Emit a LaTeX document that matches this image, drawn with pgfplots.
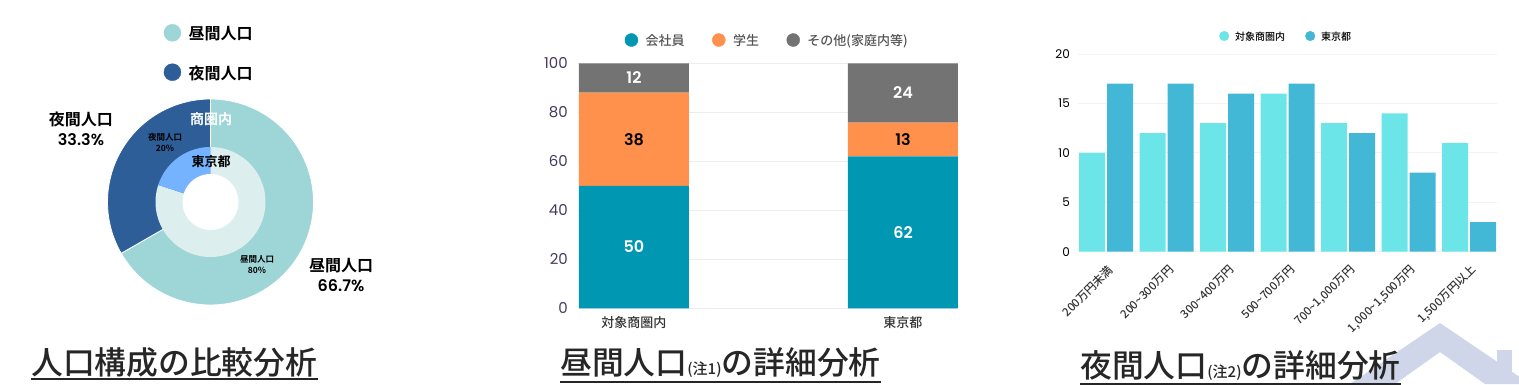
\documentclass[border=0pt]{standalone}
\usepackage{fontspec}
\usepackage{pgfplots}
\pgfplotsset{compat=1.18}
\setmainfont{Noto Sans CJK JP}
\newfontfamily\jpB{Noto Sans CJK JP Bold}
\newfontfamily\jpM{Noto Sans CJK JP Medium}
\newfontfamily\pop{Poppins}
\newfontfamily\popB{Poppins SemiBold}
\definecolor{dayL}{HTML}{9ED6D7}
\definecolor{nightD}{HTML}{2E5E97}
\definecolor{dayIn}{HTML}{DCEEEE}
\definecolor{nightIn}{HTML}{75B2FF}
\definecolor{c1}{HTML}{0097B2}
\definecolor{c2}{HTML}{FF914D}
\definecolor{c3}{HTML}{737373}
\definecolor{b1}{HTML}{6CE5E8}
\definecolor{b2}{HTML}{42B7D6}
\definecolor{deco}{HTML}{D0D6E9}
\definecolor{tickp}{HTML}{463A5A}
\definecolor{ttl}{HTML}{262626}
\definecolor{gridc}{HTML}{EDEDED}
\definecolor{txtg}{HTML}{555555}
\definecolor{txtd}{HTML}{333333}
% donut shares (percent)
\def\outerDay{66.7}
\def\outerNight{33.3}
\def\innerDay{80}
\def\innerNight{20}
\begin{document}
\begin{tikzpicture}
\useasboundingbox (0pt,0pt) rectangle (1519pt,384pt);
\pgfmathsetmacro{\aOD}{90-3.6*\outerDay}
\pgfmathsetmacro{\aID}{90-3.6*\innerDay}
% ---------------- decoration ----------------
\fill[deco] (1350pt,0pt) -- (1440pt,61pt) -- (1530pt,0pt) -- (1485pt,0pt) -- (1440pt,32pt) -- (1395pt,0pt) -- cycle;
\fill[deco] (1497pt,0pt) rectangle (1512pt,34pt);
% ---------------- panel 1: donut ----------------
\begin{axis}[at={(107.5pt,79pt)}, anchor=south west, scale only axis,
  width=206pt, height=206pt, xmin=-103, xmax=103, ymin=-103, ymax=103,
  hide axis, clip=false,
  legend cell align=left,
  legend style={at={(0.272,1.2257)}, anchor=west, draw=none, fill=none,
    inner sep=0pt, nodes={inner sep=0pt, text depth=0pt},
    font=\jpB\fontsize{16}{16}\selectfont, row sep=22pt,
    /tikz/every odd column/.append style={column sep=7.5pt}}]
\addlegendimage{legend image code/.code={\fill[dayL] (8.5pt,0pt) circle (8.5pt);}}
\addlegendentry{昼間人口}
\addlegendimage{legend image code/.code={\fill[nightD] (8.5pt,0pt) circle (8.5pt);}}
\addlegendentry{夜間人口}
\addplot[fill=dayL, draw=white, line width=0.8pt, domain=\aOD:90, samples=90, variable=\t]
  ({103*cos(\t)},{103*sin(\t)}) -- (axis cs:0,0) -- cycle;
\addplot[fill=nightD, draw=white, line width=0.8pt, domain=90:\aOD+360, samples=60, variable=\t]
  ({103*cos(\t)},{103*sin(\t)}) -- (axis cs:0,0) -- cycle;
\addplot[fill=dayIn, draw=none, domain=\aID:90, samples=90, variable=\t]
  ({55*cos(\t)},{55*sin(\t)}) -- (axis cs:0,0) -- cycle;
\addplot[fill=nightIn, draw=none, domain=90:\aID+360, samples=40, variable=\t]
  ({55*cos(\t)},{55*sin(\t)}) -- (axis cs:0,0) -- cycle;
\addplot[fill=white, draw=none, domain=0:360, samples=60, variable=\t]
  ({28*cos(\t)},{28*sin(\t)}) -- cycle;
\node[font=\jpB\fontsize{14}{14}\selectfont, text=white] at (axis cs:0.5,83) {商圏内};
\node[font=\jpB\fontsize{13}{13}\selectfont, text=black] at (axis cs:0.5,40) {東京都};
\node[font=\jpB\fontsize{8.5}{11}\selectfont, align=center, text=black] at (axis cs:-45.5,60) {夜間人口\\20\%};
\node[font=\jpB\fontsize{8.5}{11}\selectfont, align=center, text=black] at (axis cs:46.5,-63) {昼間人口\\80\%};
\node[font=\jpB\fontsize{16}{20}\selectfont, align=center, text=black] at (axis cs:-129.5,73) {夜間人口\\{\popB 33.3\%}};
\node[font=\jpB\fontsize{16}{20}\selectfont, align=center, text=black] at (axis cs:130.5,-73) {昼間人口\\{\popB 66.7\%}};
\end{axis}
% ---------------- panel 2: stacked bars ----------------
\begin{axis}[at={(578pt,75.7pt)}, anchor=south west, scale only axis,
  width=380pt, height=245pt, ybar stacked, bar width=110pt,
  xmin=-0.208, xmax=1.2045, ymin=0, ymax=100,
  xtick={0,1}, xticklabels={対象商圏内,東京都}, ytick={0,20,40,60,80,100},
  ymajorgrids, grid style={draw=gridc, line width=1pt},
  axis line style={draw=none}, major tick length=0pt,
  /pgf/number format/assume math mode=true,
  yticklabel style={font=\pop\fontsize{15}{15}\selectfont, text=tickp, inner sep=0pt, xshift=-10pt},
  xticklabel style={font=\jpM\fontsize{13}{13}\selectfont, text=txtd, inner sep=0pt, yshift=-8pt},
  legend cell align=left, legend columns=3,
  legend style={at={(0.1224,1.095)}, anchor=west, draw=none, fill=none,
    inner sep=0pt, nodes={inner sep=0pt, text depth=0pt},
    font=\jpM\fontsize{13}{13}\selectfont, text=txtg,
    /tikz/every odd column/.append style={column sep=7.5pt},
    /tikz/every even column/.append style={column sep=27.5pt}}]
\addlegendimage{legend image code/.code={\fill[c1] (6.5pt,0pt) circle (6.5pt);}}
\addlegendentry{会社員}
\addlegendimage{legend image code/.code={\fill[c2] (6.5pt,0pt) circle (6.5pt);}}
\addlegendentry{学生}
\addlegendimage{legend image code/.code={\fill[c3] (6.5pt,0pt) circle (6.5pt);}}
\addlegendentry{その他(家庭内等)}
\addplot[fill=c1, draw=none] coordinates {(0,50) (1,62)};
\addplot[fill=c2, draw=none] coordinates {(0,38) (1,13.8)};
\addplot[fill=c3, draw=none] coordinates {(0,12) (1,24.2)};
\coordinate (L1) at (axis cs:0,25);
\coordinate (L2) at (axis cs:0,69);
\coordinate (L3) at (axis cs:0,94);
\coordinate (L4) at (axis cs:1,31);
\coordinate (L5) at (axis cs:1,68.9);
\coordinate (L6) at (axis cs:1,87.9);
\end{axis}
\begin{scope}[every node/.style={font=\popB\fontsize{16}{16}\selectfont}]
\node[text=white] at (L1) {50};
\node[text=black] at (L2) {38};
\node[text=white] at (L3) {12};
\node[text=white] at (L4) {62};
\node[text=black] at (L5) {13};
\node[text=white] at (L6) {24};
\end{scope}
% ---------------- panel 3: grouped bars ----------------
\begin{axis}[at={(1078pt,132.3pt)}, anchor=south west, scale only axis,
  width=419pt, height=197.7pt, ybar, bar width=26pt,
  xmin=-0.463, xmax=6.463, ymin=0, ymax=20,
  ytick={0,5,10,15,20}, xtick={0,1,2,3,4,5,6},
  xticklabels={200万円未満, 200\textasciitilde 300万円, 300\textasciitilde 400万円, 500\textasciitilde 700万円, {700\textasciitilde 1,000万円}, {1,000\textasciitilde 1,500万円}, {1,500万円以上}},
  ymajorgrids, grid style={draw=gridc!70, line width=1pt},
  axis line style={draw=none}, major tick length=0pt,
  /pgf/number format/assume math mode=true,
  yticklabel style={font=\pop\fontsize{12}{12}\selectfont, text=black, inner sep=0pt, xshift=-8pt},
  xticklabel style={xshift=5pt, yshift=-16pt, rotate=45, anchor=east, inner sep=0pt, font=\jpM\fontsize{11.5}{11.5}\selectfont, text=txtd},
  legend cell align=left, legend columns=2,
  legend style={at={(0.3365,1.091)}, anchor=west, draw=none, fill=none,
    inner sep=0pt, nodes={inner sep=0pt, text depth=0pt},
    font=\jpM\fontsize{10}{10}\selectfont, text=black,
    /tikz/every odd column/.append style={column sep=6pt},
    /tikz/every even column/.append style={column sep=20pt}}]
\addlegendimage{legend image code/.code={\fill[b1] (4.8pt,0pt) circle (4.8pt);}}
\addlegendentry{対象商圏内}
\addlegendimage{legend image code/.code={\fill[b2] (4.8pt,0pt) circle (4.8pt);}}
\addlegendentry{東京都}
\addplot[fill=b1, draw=none, bar shift=-14pt] coordinates {(0,10) (1,12) (2,13) (3,16) (4,13) (5,14) (6,11)};
\addplot[fill=b2, draw=none, bar shift=14pt] coordinates {(0,17) (1,17) (2,16) (3,17) (4,12) (5,8) (6,3)};
\end{axis}
% ---------------- titles ----------------
\node[anchor=base west, inner sep=0pt, font=\jpM\fontsize{31.8}{32}\selectfont, text=ttl] (T1) at (31pt,9.5pt) {人口構成の比較分析};
\draw[ttl, line width=2pt] ([yshift=-4.5pt]T1.base west) -- ([yshift=-4.5pt]T1.base east);
\node[anchor=base west, inner sep=0pt, font=\jpM\fontsize{31.8}{32}\selectfont, text=ttl] (T2) at (560pt,9.2pt) {昼間人口{\fontsize{15}{15}\selectfont(注1)}の詳細分析};
\draw[ttl, line width=2pt] ([yshift=-6.7pt]T2.base west) -- ([yshift=-6.7pt]T2.base east);
\node[anchor=base west, inner sep=0pt, font=\jpM\fontsize{31.8}{32}\selectfont, text=ttl] (T3) at (1080pt,6.2pt) {夜間人口{\fontsize{15}{15}\selectfont(注2)}の詳細分析};
\draw[ttl, line width=2pt] ([yshift=-5.7pt]T3.base west) -- ([yshift=-5.7pt]T3.base east);
\end{tikzpicture}
\end{document}
